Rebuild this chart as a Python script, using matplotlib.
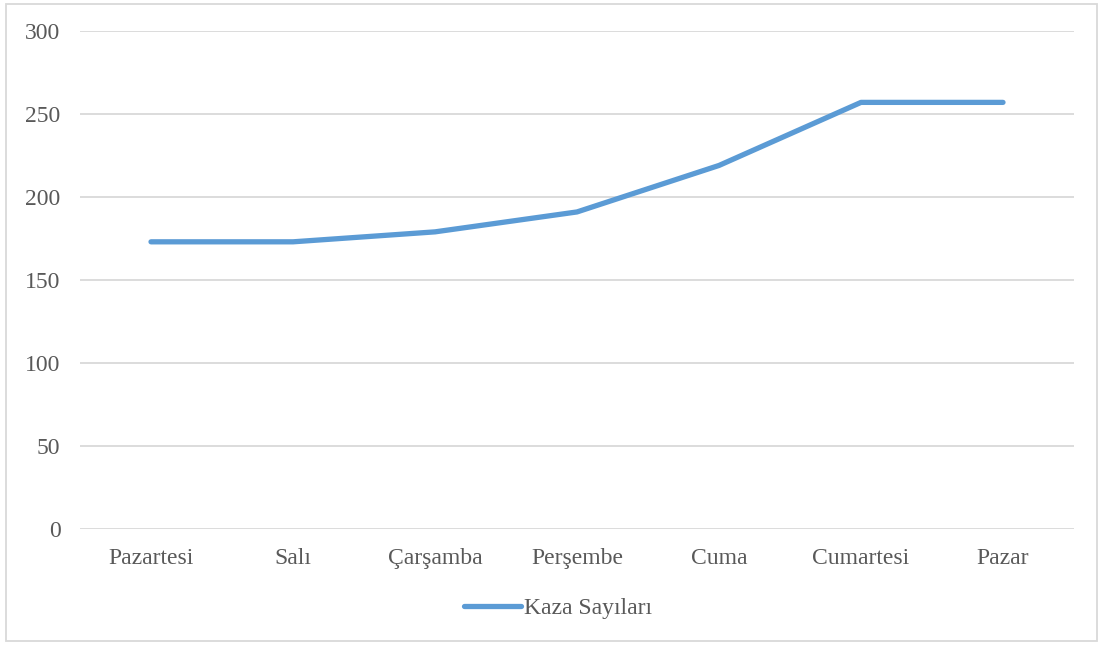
import matplotlib
matplotlib.use('Agg')
import matplotlib.pyplot as plt
from matplotlib.patches import Rectangle

days = ['Pazartesi', 'Salı', 'Çarşamba', 'Perşembe', 'Cuma', 'Cumartesi', 'Pazar']
kaza = [173, 173, 179, 191, 219, 257, 257]
yticks = [0, 50, 100, 150, 200, 250, 300]

plt.rcParams['font.family'] = ['Liberation Serif', 'DejaVu Serif']
txt = '#595959'

fig = plt.figure(figsize=(11.03, 6.45), dpi=100)
ax = fig.add_axes([80/1103, 1 - 529/645, 994/1103, 498/645])

x = list(range(len(days)))
ax.plot(x, kaza, color='#5B9BD5', linewidth=3.8, solid_capstyle='round',
        solid_joinstyle='round', label='Kaza Sayıları', zorder=3)

ax.set_xlim(-0.5, len(days) - 0.5)
ax.set_ylim(0, 300)
ax.set_yticks(yticks)
ax.set_xticks(x)
ax.set_xticklabels(days)
ax.grid(axis='y', color='#D9D9D9', linewidth=1.3)
ax.set_axisbelow(True)
for s in ax.spines.values():
    s.set_visible(False)
ax.tick_params(axis='both', length=0, labelsize=17, labelcolor=txt)
ax.tick_params(axis='y', pad=14)
ax.tick_params(axis='x', pad=14)

leg = fig.legend(loc='center', bbox_to_anchor=(558/1103, 1 - 608/645), frameon=False,
                 fontsize=17, handlelength=2.4, handletextpad=0.1)
for t in leg.get_texts():
    t.set_color(txt)

fig.patches.append(Rectangle((6/1103, 4/645), 1091/1103, 637/645, transform=fig.transFigure,
                             fill=False, edgecolor='#D9D9D9', linewidth=1.3))

fig.savefig('out.png', dpi=100)
